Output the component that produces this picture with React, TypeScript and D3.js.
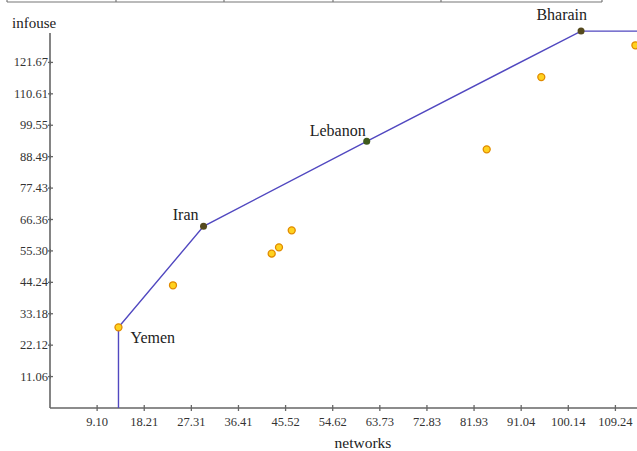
import React, { useEffect, useRef } from "react";
import * as d3 from "d3";

const xTickLabels = ["9.10", "18.21", "27.31", "36.41", "45.52", "54.62", "63.73", "72.83", "81.93", "91.04", "100.14", "109.24"];
const yTickLabels = ["11.06", "22.12", "33.18", "44.24", "55.30", "66.36", "77.43", "88.49", "99.55", "110.61", "121.67"];

const frontierNames = ["Yemen", "Iran", "Lebanon", "Bharain"];
const frontierX = [13.23, 29.66, 61.19, 102.6];
const frontierY = [28.4, 63.96, 93.9, 132.7];

const otherX = [23.76, 42.83, 44.24, 46.7, 84.37, 94.92, 113.1];
const otherY = [43.2, 54.35, 56.57, 62.55, 91.06, 116.5, 127.7];

const X_MAX = 118.34;
const Y_MAX = 132.73;

const labelStyle: Record<string, { dx: number; dy: number; anchor: string }> = {
  Yemen: { dx: 12, dy: 16, anchor: "start" },
  Iran: { dx: -5, dy: -6, anchor: "end" },
  Lebanon: { dx: -1, dy: -5, anchor: "end" },
  Bharain: { dx: 6, dy: -11, anchor: "end" },
};

export default function App() {
  const ref = useRef<SVGSVGElement | null>(null);

  useEffect(() => {
    const svg = d3.select(ref.current);
    svg.selectAll("*").remove();
    const font = "'Liberation Serif', 'Times New Roman', serif";

    const x = d3.scaleLinear().domain([0, X_MAX]).range([50, 50 + X_MAX * 5.176]);
    const y = d3.scaleLinear().domain([0, Y_MAX]).range([408, 31]);

    // top table remnant
    const top = svg.append("g").attr("stroke", "#777").attr("stroke-width", 1.2);
    top.append("line").attr("x1", 7).attr("x2", 602).attr("y1", 2).attr("y2", 2);
    [7, 116, 224, 333, 441, 602].forEach((vx) =>
      top.append("line").attr("x1", vx).attr("x2", vx).attr("y1", 0).attr("y2", 2)
    );

    // axes
    const axisColor = "#666";
    svg.append("line").attr("x1", 50).attr("x2", 50).attr("y1", 33).attr("y2", 408)
      .attr("stroke", axisColor).attr("stroke-width", 1.6);
    svg.append("line").attr("x1", 50).attr("x2", 637).attr("y1", 408).attr("y2", 408)
      .attr("stroke", axisColor).attr("stroke-width", 1.6);

    const xStep = X_MAX / 13;
    const yStep = Y_MAX / 12;

    xTickLabels.forEach((lab, i) => {
      const px = x(xStep * (i + 1));
      svg.append("line").attr("x1", px).attr("x2", px).attr("y1", 405).attr("y2", 411)
        .attr("stroke", axisColor).attr("stroke-width", 1.3);
      svg.append("text").attr("x", px).attr("y", 426).attr("text-anchor", "middle")
        .attr("font-family", font).attr("font-size", 12.5).attr("fill", "#333").text(lab);
    });

    yTickLabels.forEach((lab, i) => {
      const py = y(yStep * (i + 1));
      svg.append("line").attr("x1", 48).attr("x2", 53).attr("y1", py).attr("y2", py)
        .attr("stroke", axisColor).attr("stroke-width", 1.3);
      svg.append("line").attr("x1", 50.5).attr("x2", 50.5).attr("y1", py - 2).attr("y2", py + 2)
        .attr("stroke", axisColor).attr("stroke-width", 1);
      svg.append("text").attr("x", 48).attr("y", py + 4).attr("text-anchor", "end")
        .attr("font-family", font).attr("font-size", 12.5).attr("fill", "#333").text(lab);
    });

    svg.append("text").attr("x", 12).attr("y", 28).attr("font-family", font)
      .attr("font-size", 15).attr("fill", "#222").text("infouse");
    svg.append("text").attr("x", 363).attr("y", 448).attr("text-anchor", "middle")
      .attr("font-family", font).attr("font-size", 15.5).attr("fill", "#222").text("networks");

    // frontier line
    const pts: [number, number][] = [[frontierX[0], 0]];
    frontierX.forEach((fx, i) => pts.push([fx, frontierY[i]]));
    pts.push([X_MAX, frontierY[frontierY.length - 1]]);
    const line = d3.line<[number, number]>().x((d) => x(d[0])).y((d) => y(d[1]));
    svg.append("path").attr("d", line(pts) || "").attr("fill", "none")
      .attr("stroke", "#5148c0").attr("stroke-width", 1.4);

    // other points
    otherX.forEach((ox, i) => {
      svg.append("circle").attr("cx", x(ox)).attr("cy", y(otherY[i])).attr("r", 3.5)
        .attr("fill", "#ffd21f").attr("stroke", "#e08a00").attr("stroke-width", 1.3);
    });

    // frontier points
    frontierNames.forEach((name, i) => {
      const cx = x(frontierX[i]);
      const cy = y(frontierY[i]);
      if (name === "Yemen") {
        svg.append("circle").attr("cx", cx).attr("cy", cy).attr("r", 3.5)
          .attr("fill", "#ffd21f").attr("stroke", "#e08a00").attr("stroke-width", 1.3);
      } else {
        svg.append("circle").attr("cx", cx).attr("cy", cy).attr("r", 3.5)
          .attr("fill", name === "Lebanon" ? "#3f5a1c" : "#554a1e");
      }
      const s = labelStyle[name];
      svg.append("text").attr("x", cx + s.dx).attr("y", cy + s.dy).attr("text-anchor", s.anchor)
        .attr("font-family", font).attr("font-size", 16).attr("fill", "#222").text(name);
    });
  }, []);

  return (
    <svg
      ref={ref}
      width={637}
      height={451}
      style={{ position: "fixed", top: 0, left: 0, background: "#fff", display: "block" }}
    />
  );
}
